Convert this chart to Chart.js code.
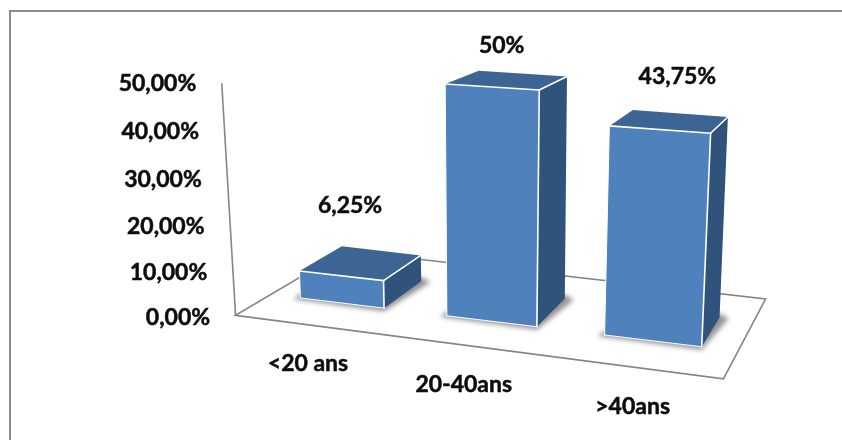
<!DOCTYPE html>
<html lang="fr">
<head>
<meta charset="utf-8">
<title>Répartition par âge</title>
<style>
  html, body { margin: 0; padding: 0; background: #fff; }
  #frame { width: 842px; height: 440px; position: relative; }
  canvas { display: block; }
</style>
<script src="https://cdn.jsdelivr.net/npm/chart.js@4/dist/chart.umd.js"></script>
</head>
<body>
<div id="frame"><canvas id="chart" width="842" height="440"></canvas></div>
<script>
// Chart values
const categories = ['<20 ans', '20-40ans', '>40ans'];
const shares = [6.25, 50, 43.75];
const shareLabels = ['6,25%', '50%', '43,75%'];
const axisTicks = [0, 10, 20, 30, 40, 50];
const axisTickLabels = ['0,00%', '10,00%', '20,00%', '30,00%', '40,00%', '50,00%'];

// Perspective set-up: where the plane holding the bar fronts lands on the canvas
const planeCorners = [[271, 294.4], [738, 351.2], [750, 103.8], [262, 72]];
const vanishingPoint = [994, -133];
const depthBarBack = 0.061;
const depthFloorFrontLeft = -0.049;
const depthFloorFrontRight = -0.057;
const depthAxisTop = -0.055;
const depthFloorBackLeft = 0.102;
const depthFloorBackRight = 0.108;
const dataLabelOffsets = [[9, -70], [10, -41], [18, -53]];

const labelFont = 'bold 23px Lato, "Open Sans", sans-serif';
const colors = {
  front: '#4f81bd', top: '#3d6594', side: '#30537b',
  edge: '#ffffff', frame: '#8a8a8a', axis: '#868686', text: '#0d0d0d'
};

// Unit square to quadrilateral projective mapping
function squareToQuad(q) {
  const [[x0, y0], [x1, y1], [x2, y2], [x3, y3]] = q;
  const dx1 = x1 - x2, dx2 = x3 - x2, sx = x0 - x1 + x2 - x3;
  const dy1 = y1 - y2, dy2 = y3 - y2, sy = y0 - y1 + y2 - y3;
  const den = dx1 * dy2 - dx2 * dy1;
  const g = (sx * dy2 - dx2 * sy) / den;
  const h = (dx1 * sy - sx * dy1) / den;
  const a = x1 - x0 + g * x1, b = x3 - x0 + h * x3;
  const d = y1 - y0 + g * y1, e = y3 - y0 + h * y3;
  return (u, v) => {
    const w = g * u + h * v + 1;
    return [(a * u + b * v + x0) / w, (d * u + e * v + y0) / w];
  };
}
const planeMap = squareToQuad(planeCorners);

// Push a canvas point along the depth direction
function atDepth(p, t) {
  return [p[0] + t * (vanishingPoint[0] - p[0]), p[1] + t * (vanishingPoint[1] - p[1])];
}

function polygon(ctx, pts) {
  ctx.beginPath();
  pts.forEach((p, i) => i ? ctx.lineTo(p[0], p[1]) : ctx.moveTo(p[0], p[1]));
  ctx.closePath();
}

function segment(ctx, a, b) {
  ctx.beginPath();
  ctx.moveTo(a[0], a[1]);
  ctx.lineTo(b[0], b[1]);
  ctx.stroke();
}

// Bold face thickened slightly with a thin outline of the same colour
function heavyText(ctx, text, x, y) {
  ctx.strokeText(text, x, y);
  ctx.fillText(text, x, y);
}

const perspectiveBars = {
  id: 'perspectiveBars',
  // The flat bars are replaced by projected boxes
  beforeDatasetDraw(chart) {
    const { ctx, chartArea: area, scales: { x: xs, y: ys } } = chart;
    const yZero = ys.getPixelForValue(0), yFull = ys.getPixelForValue(50);
    const uOf = (px) => (px - area.left) / (area.right - area.left);
    const project = (px, py) => planeMap(uOf(px), (yZero - py) / (yZero - yFull));
    const frontDepth = (px) => depthFloorFrontLeft + (depthFloorFrontRight - depthFloorFrontLeft) * uOf(px);

    ctx.save();

    // Chart frame: top and left rules only
    ctx.strokeStyle = colors.frame;
    ctx.lineWidth = 2;
    segment(ctx, [10, 440], [10, 11]);
    segment(ctx, [9, 11], [842, 11]);

    // Floor and value axis
    const fl = project(area.left, yZero), fr = project(area.right, yZero);
    const axisTop = atDepth(project(area.left, yFull), depthAxisTop);
    const floor = [
      atDepth(fl, depthFloorFrontLeft), atDepth(fr, depthFloorFrontRight),
      atDepth(fr, depthFloorBackRight), atDepth(fl, depthFloorBackLeft)
    ];
    ctx.strokeStyle = colors.axis;
    ctx.lineWidth = 1.6;
    polygon(ctx, floor);
    ctx.stroke();
    segment(ctx, floor[0], axisTop);

    // Boxes, each built from its bar element
    chart.getDatasetMeta(0).data.forEach((bar) => {
      const l = bar.x - bar.width / 2, r = bar.x + bar.width / 2;
      const bl = project(l, bar.base), br = project(r, bar.base);
      const tl = project(l, bar.y), tr = project(r, bar.y);
      const bbr = atDepth(br, depthBarBack);
      const btl = atDepth(tl, depthBarBack), btr = atDepth(tr, depthBarBack);

      // Soft contact shadow on the floor
      ctx.save();
      ctx.filter = 'blur(2.5px)';
      ctx.fillStyle = 'rgba(40,40,40,0.5)';
      polygon(ctx, [
        [bl[0] - 7, bl[1] + 1], [br[0], br[1] + 3],
        [bbr[0] + 9, bbr[1] + 1], [bbr[0], bbr[1] - 4], [bl[0], bl[1] - 4]
      ]);
      ctx.fill();
      ctx.restore();

      ctx.fillStyle = colors.side;
      polygon(ctx, [br, bbr, btr, tr]);
      ctx.fill();
      ctx.fillStyle = colors.top;
      polygon(ctx, [tl, tr, btr, btl]);
      ctx.fill();
      ctx.fillStyle = colors.front;
      polygon(ctx, [bl, br, tr, tl]);
      ctx.fill();

      ctx.strokeStyle = colors.edge;
      ctx.lineCap = 'round';
      ctx.lineWidth = 1.6;
      segment(ctx, tl, tr);
      segment(ctx, tr, br);
      segment(ctx, tr, btr);
      ctx.lineWidth = 1;
      segment(ctx, bl, br);
      segment(ctx, bl, tl);
    });

    // Text
    ctx.font = labelFont;
    ctx.fillStyle = colors.text;
    ctx.strokeStyle = colors.text;
    ctx.lineWidth = 0.5;
    ctx.lineJoin = 'round';
    ctx.textBaseline = 'middle';

    // Tick labels follow the value axis line, with its perspective spacing
    const foot = floor[0];
    ctx.textAlign = 'right';
    axisTicks.forEach((value, i) => {
      const py = ys.getPixelForValue(value);
      const f = (yZero - py) / (yZero - yFull);
      const labelX = foot[0] + f * (axisTop[0] - foot[0]);
      const labelY = atDepth(project(area.left, py), depthAxisTop)[1];
      heavyText(ctx, axisTickLabels[i], labelX - 25.5, labelY);
    });

    ctx.textAlign = 'center';
    chart.getDatasetMeta(0).data.forEach((bar, i) => {
      const px = xs.getPixelForValue(i);
      const base = atDepth(project(px, bar.base), frontDepth(px));
      heavyText(ctx, categories[i], base[0] - 1, base[1] + 39);
      const head = project(bar.x, bar.y);
      heavyText(ctx, shareLabels[i], head[0] + dataLabelOffsets[i][0], head[1] + dataLabelOffsets[i][1]);
    });

    ctx.restore();
    return false;
  }
};

new Chart(document.getElementById('chart'), {
  type: 'bar',
  data: {
    labels: categories,
    datasets: [{ data: shares, backgroundColor: colors.front, barPercentage: 0.58, categoryPercentage: 1 }]
  },
  options: {
    responsive: false,
    animation: false,
    events: [],
    layout: { padding: { left: 230, right: 80, top: 80, bottom: 80 } },
    plugins: { legend: { display: false }, tooltip: { enabled: false } },
    scales: {
      x: { display: false, offset: true },
      y: { display: false, min: 0, max: 50 }
    }
  },
  plugins: [perspectiveBars]
});
</script>
</body>
</html>
